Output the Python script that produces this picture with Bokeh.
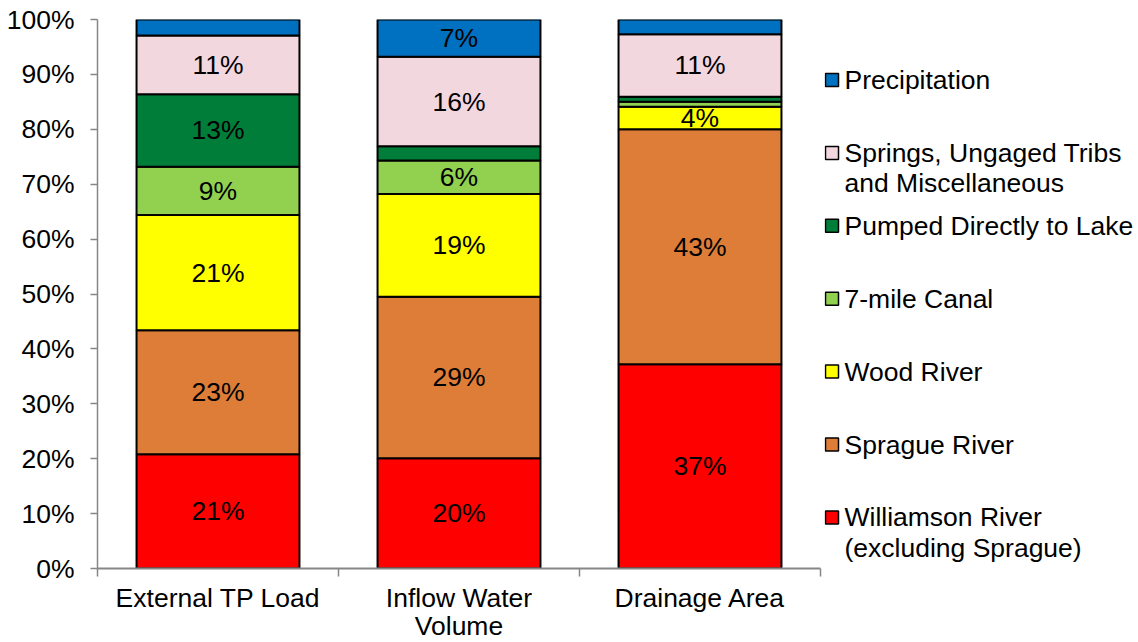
from bokeh.plotting import figure
from bokeh.layouts import row
from bokeh.models import ColumnDataSource, FixedTicker, PrintfTickFormatter, Range1d
from bokeh.embed import file_html
from bokeh.resources import INLINE
from bokeh.core.properties import value

# ---------------- data ----------------
categories = ["External TP Load", "Inflow Water\nVolume", "Drainage Area"]
series_names = ["Williamson River\n(excluding Sprague)", "Sprague River", "Wood River",
                "7-mile Canal", "Pumped Directly to Lake",
                "Springs, Ungaged Tribs\nand Miscellaneous", "Precipitation"]
williamson = [20.8, 20.1, 37.2]
sprague = [22.6, 29.4, 42.8]
wood = [21.0, 18.7, 4.1]
canal = [8.8, 6.1, 0.9]
pumped = [13.2, 2.6, 0.95]
springs = [10.7, 16.3, 11.35]
precip = [2.9, 6.8, 2.7]
series_values = [williamson, sprague, wood, canal, pumped, springs, precip]
colors = ["#FF0000", "#DD7D38", "#FFFF00", "#92D050", "#007E39", "#F2D7DF", "#0070C0"]
y_ticks = [0, 10, 20, 30, 40, 50, 60, 70, 80, 90, 100]

FONT = "Liberation Sans"
FS = "26.5px"
AXIS_COLOR = "#868686"
TOP, FRAME_H, BOTTOM = 19, 549, 74

# ---------------- main chart ----------------
p = figure(frame_width=723, frame_height=FRAME_H,
           min_border_left=97, min_border_top=TOP, min_border_right=4, min_border_bottom=BOTTOM,
           x_range=Range1d(0, len(categories)), y_range=Range1d(0, 100),
           output_backend="svg", toolbar_location=None,
           background_fill_color="white", border_fill_color="white")
p.outline_line_color = None
p.xgrid.visible = False
p.ygrid.visible = False

xs = [i + 0.5 for i in range(len(categories))]
bottoms = [0.0] * len(categories)
lab_x, lab_y, lab_t = [], [], []
for vals, col in zip(series_values, colors):
    tops = [b + v for b, v in zip(bottoms, vals)]
    src = ColumnDataSource(dict(x=xs, bottom=bottoms, top=tops))
    p.vbar(x="x", bottom="bottom", top="top", width=0.676, source=src,
           fill_color=col, line_color="black", line_width=2)
    for x, b, v in zip(xs, bottoms, vals):
        if v >= 3.5:
            lab_x.append(x)
            lab_y.append(b + v / 2)
            lab_t.append(f"{round(v)}%")
    bottoms = tops

p.text(x=lab_x, y=lab_y, text=lab_t, text_font=value(FONT), text_font_size=FS,
       text_align="center", text_baseline="middle", text_color="black")

# y axis
ya = p.yaxis[0]
ya.ticker = FixedTicker(ticks=y_ticks, minor_ticks=[])
ya.formatter = PrintfTickFormatter(format="%d%%")
ya.axis_line_color = AXIS_COLOR
ya.axis_line_width = 1.5
ya.major_tick_line_color = AXIS_COLOR
ya.major_tick_line_width = 1.5
ya.major_tick_out = 7
ya.major_tick_in = 0
ya.minor_tick_line_color = None
ya.major_label_text_font = FONT
ya.major_label_text_font_size = FS
ya.major_label_text_color = "black"
ya.major_label_standoff = 16

# x axis
xa = p.xaxis[0]
xa.ticker = FixedTicker(ticks=xs, minor_ticks=list(range(len(categories) + 1)))
xa.major_label_overrides = {x: c for x, c in zip(xs, categories)}
xa.axis_line_color = AXIS_COLOR
xa.axis_line_width = 2
xa.major_tick_line_color = None
xa.major_tick_out = 0
xa.major_tick_in = 0
xa.minor_tick_line_color = AXIS_COLOR
xa.minor_tick_line_width = 1.5
xa.minor_tick_out = 8
xa.minor_tick_in = 0
xa.major_label_text_font = FONT
xa.major_label_text_font_size = FS
xa.major_label_text_color = "black"
xa.major_label_text_line_height = 0.95
xa.major_label_standoff = 6

# ---------------- legend panel (frame aligned with main frame; units = page px) ----------------
LW = 318
leg = figure(width=LW, frame_height=FRAME_H, min_border_top=TOP, min_border_bottom=BOTTOM,
             min_border_left=0, min_border_right=0,
             x_range=Range1d(0, LW), y_range=Range1d(TOP + FRAME_H, TOP),
             output_backend="svg", toolbar_location=None,
             background_fill_color="white", border_fill_color="white")
leg.outline_line_color = None
leg.axis.visible = False
leg.grid.visible = False

items = list(reversed(list(zip(series_names, colors))))
mk_y, mk_c, tx_x, tx_y, tx_t = [], [], [], [], []
for i, (name, col) in enumerate(items):
    yc = 79.5 + 72.9 * i
    mk_y.append(yc)
    mk_c.append(col)
    for k, line in enumerate(name.split("\n")):
        tx_x.append(20)
        tx_y.append(yc + 30.5 * k)
        tx_t.append(line)

leg.rect(x=[7.5] * len(mk_y), y=mk_y, width=13, height=13, fill_color=mk_c,
         line_color="black", line_width=1.5)
leg.text(x=tx_x, y=tx_y, text=tx_t, text_font=value(FONT), text_font_size=FS,
         text_align="left", text_baseline="middle", text_color="black")

layout = row(p, leg, spacing=0)
open("out.html", "w").write(file_html(layout, INLINE))
